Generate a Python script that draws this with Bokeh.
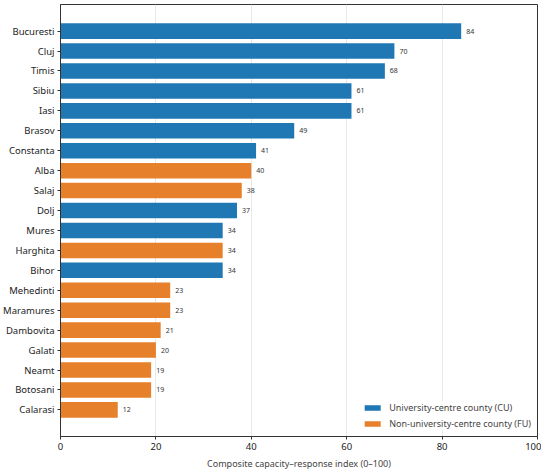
from bokeh.plotting import figure
from bokeh.models import ColumnDataSource, FactorRange, FixedTicker, Legend, LegendItem
from bokeh.embed import file_html
from bokeh.resources import INLINE
from bokeh.core.properties import value

counties = ["Bucuresti", "Cluj", "Timis", "Sibiu", "Iasi", "Brasov", "Constanta", "Alba",
            "Salaj", "Dolj", "Mures", "Harghita", "Bihor", "Mehedinti", "Maramures",
            "Dambovita", "Galati", "Neamt", "Botosani", "Calarasi"]
scores = [84, 70, 68, 61, 61, 49, 41, 40, 38, 37, 34, 34, 34, 23, 23, 21, 20, 19, 19, 12]
groups = ["CU", "CU", "CU", "CU", "CU", "CU", "CU", "FU", "FU", "CU", "CU", "FU", "CU",
          "FU", "FU", "FU", "FU", "FU", "FU", "FU"]
group_labels = {"CU": "University-centre county (CU)", "FU": "Non-university-centre county (FU)"}
x_ticks = [0, 20, 40, 60, 80, 100]

colors = {"CU": "#1f77b4", "FU": "#e6802a"}
FONT = "Noto Sans"

src = ColumnDataSource(dict(
    county=counties, score=scores, group=groups,
    label=[str(s) for s in scores],
))

n = len(counties)
yr = FactorRange(factors=list(reversed(counties)), range_padding=1.67 / n,
                 range_padding_units="percent")

p = figure(frame_width=477, frame_height=432, y_range=yr, x_range=(0, 100),
           output_backend="svg", toolbar_location=None,
           min_border_left=50, min_border_right=4, min_border_top=4, min_border_bottom=24)

renderers = {}
for g in ["CU", "FU"]:
    view_src = ColumnDataSource(dict(
        county=[c for c, gg in zip(counties, groups) if gg == g],
        score=[s for s, gg in zip(scores, groups) if gg == g],
    ))
    renderers[g] = p.hbar(y="county", right="score", left=0, height=0.78, source=view_src,
                          fill_color=colors[g], line_color=None)

p.text(x="score", y="county", text="label", source=src, x_offset=5,
       text_baseline="middle", text_align="left", text_font_size="7px",
       text_font=value(FONT), text_color="#333333")

legend = Legend(items=[LegendItem(label=group_labels[g], renderers=[renderers[g]]) for g in ["CU", "FU"]],
                location="bottom_right", border_line_color=None, background_fill_alpha=0.9,
                label_text_font=FONT, label_text_font_size="9px", glyph_width=20, glyph_height=7,
                label_height=12, spacing=3, padding=8, margin=6, label_standoff=7)
p.add_layout(legend)

p.xaxis.ticker = FixedTicker(ticks=x_ticks)
p.xaxis.axis_label = "Composite capacity\u2013response index (0\u2013100)"
p.xaxis.axis_label_text_font = FONT
p.xaxis.axis_label_text_font_style = "normal"
p.xaxis.axis_label_text_font_size = "9px"
p.xaxis.axis_label_standoff = 4
for ax in (p.xaxis, p.yaxis):
    ax.major_label_text_font = FONT
    ax.major_label_text_font_size = "9.5px"
    ax.major_label_text_color = "#222222"
    ax.axis_line_color = "#333333"
    ax.major_tick_line_color = "#333333"
    ax.major_tick_out = 3
    ax.major_tick_in = 0
    ax.minor_tick_line_color = None
    ax.major_label_standoff = 3

p.xgrid.grid_line_color = "#e8e8e8"
p.ygrid.grid_line_color = None
p.outline_line_color = "#333333"
p.outline_line_width = 1
p.background_fill_color = "white"

open("out.html", "w").write(file_html(p, INLINE))
